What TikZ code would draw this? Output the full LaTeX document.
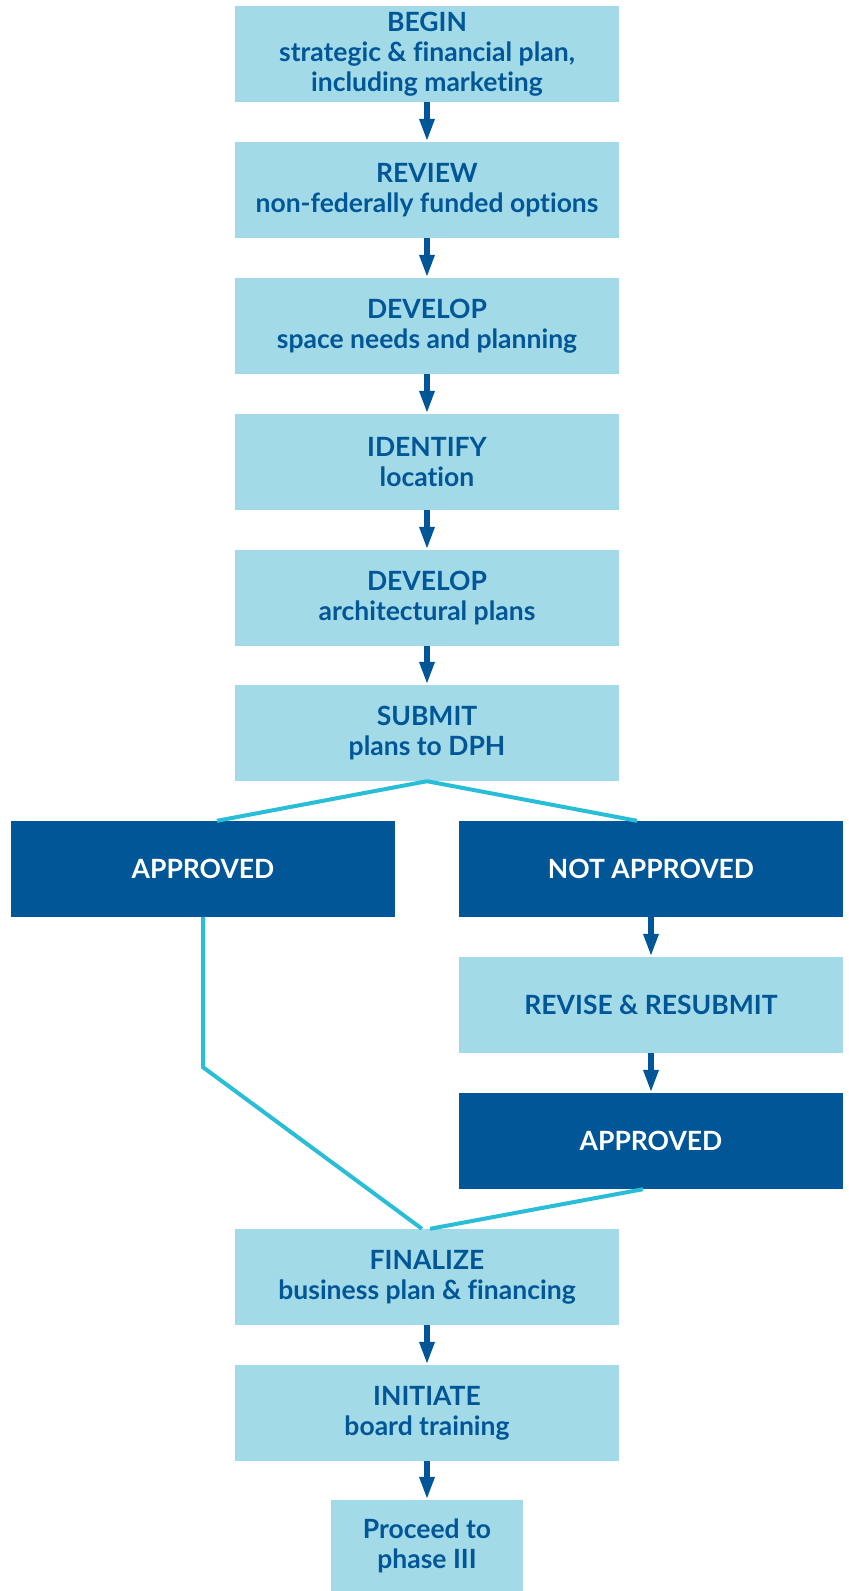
\documentclass[tikz,border=0pt]{standalone}
\usepackage{fontspec}
\setmainfont{Lato}[Ligatures=NoCommon]
\usepackage{tikz}
\usetikzlibrary{shapes,arrows.meta}
\definecolor{boxblue}{HTML}{A2DAE8}
\definecolor{darkblue}{HTML}{005696}
\definecolor{linkcyan}{HTML}{29BDD8}

\begin{document}
\begin{tikzpicture}[x=1pt,y=-1pt,
	stepbox/.style={fill=boxblue, text=darkblue, minimum width=384pt, minimum height=96pt, inner sep=0pt, align=center, font=\fontsize{26.5}{30}\selectfont\bfseries},
	okbox/.style={stepbox, fill=darkblue, text=white},
	flow/.style={draw=darkblue, line width=6pt, -{Triangle[width=14pt,length=23pt]}},
	link/.style={draw=linkcyan, line width=4pt}]
	\useasboundingbox (0,0) rectangle (849,1591);
	
	\node[stepbox] (begin) at (427,54) {BEGIN\\strategic \& financial plan,\\including marketing};
	\node[stepbox] (review) at (427,190) {REVIEW\\non-federally funded options};
	\node[stepbox] (space) at (427,326) {DEVELOP\\space needs and planning};
	\node[stepbox] (location) at (427,462) {IDENTIFY\\location};
	\node[stepbox] (archplans) at (427,598) {DEVELOP\\architectural plans};
	\node[stepbox] (submit) at (427,733) {SUBMIT\\plans to DPH};
	
	\node[okbox] (approved) at (203,869) {APPROVED};
	\node[okbox] (notapproved) at (651,869) {NOT APPROVED};
	\node[stepbox] (revise) at (651,1005) {REVISE \& RESUBMIT};
	\node[okbox] (reapproved) at (651,1141) {APPROVED};
	
	\node[stepbox] (finalize) at (427,1277) {FINALIZE\\business plan \& financing};
	\node[stepbox] (training) at (427,1413) {INITIATE\\board training};
	\node[stepbox, minimum width=192pt, minimum height=91pt] (phase) at (427,1545.5) {Proceed to\\phase III};
	
	\draw[flow] (begin) -- (review);
	\draw[flow] (review) -- (space);
	\draw[flow] (space) -- (location);
	\draw[flow] (location) -- (archplans);
	\draw[flow] (archplans) -- (submit);
	\draw[flow] (notapproved) -- (revise);
	\draw[flow] (revise) -- (reapproved);
	\draw[flow] (finalize) -- (training);
	\draw[flow] (training) -- (phase);
	
	\draw[link] (submit.south) -- ([xshift=14pt]approved.north);
	\draw[link] (submit.south) -- ([xshift=-14pt]notapproved.north);
	\draw[link, line join=miter] (approved.south) -- ++(0,150) -- ([xshift=-5pt]finalize.north);
	\draw[link] ([xshift=-8pt]reapproved.south) -- ([xshift=3pt]finalize.north);
\end{tikzpicture}
\end{document}
